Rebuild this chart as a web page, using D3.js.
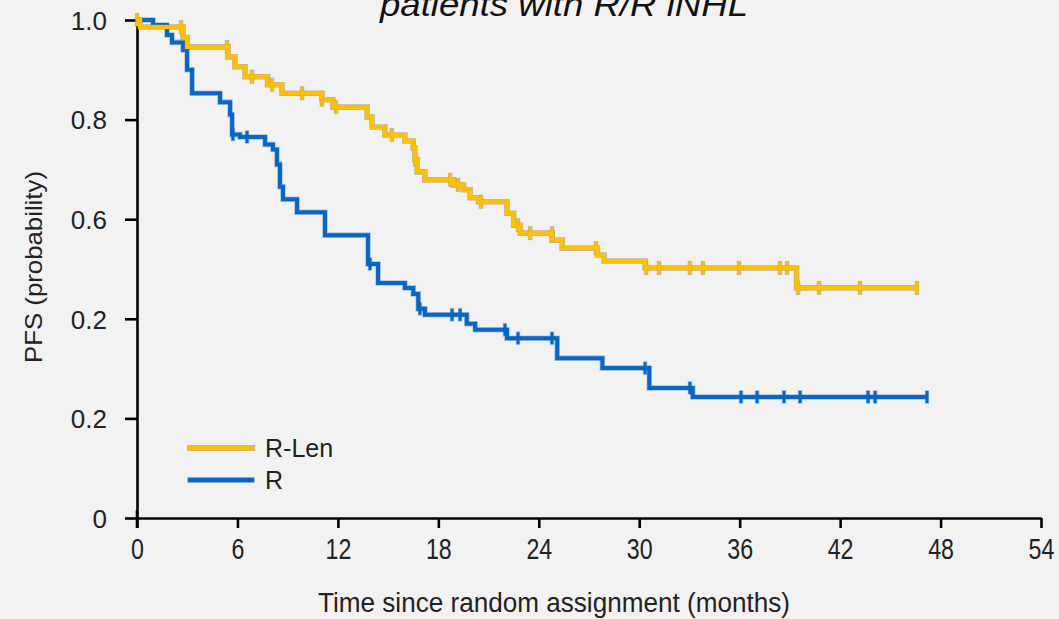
<!DOCTYPE html>
<html lang="en">
<head>
<meta charset="utf-8">
<script src="https://d3js.org/d3.v7.min.js"></script>
<style>
  body { margin: 0; background: #f2f2f2; }
  text { font-family: "Liberation Sans", Arial, sans-serif; fill: #222; }
</style>
</head>
<body>
<script>
var width = 1059;
var height = 619;

// axis ticks (the reference really labels 0.4 as "0.2")
var xTicks = [0, 6, 12, 18, 24, 30, 36, 42, 48, 54];
var yTicks = [1.0, 0.8, 0.6, 0.4, 0.2, 0];
var yTickLabels = ["1.0", "0.8", "0.6", "0.2", "0.2", "0"];

var seriesNames = ["R-Len", "R"];

// R-Len: step times (months) and survival after each step
var rlenTimes = [0, 0.18, 2.75, 3.0, 5.44, 5.85, 6.45, 7.8, 8.66, 11.05, 11.7, 13.74, 14.04, 14.8, 16.0, 16.5, 16.6, 16.73, 17.2, 18.9, 19.5, 19.9, 20.4, 22.1, 22.5, 22.9, 24.8, 25.4, 27.5, 27.9, 30.35, 39.4, 46.65];
var rlenSurv  = [1.0, 0.986, 0.965, 0.946, 0.926, 0.906, 0.886, 0.87, 0.853, 0.84, 0.825, 0.805, 0.785, 0.769, 0.757, 0.743, 0.72, 0.695, 0.679, 0.669, 0.659, 0.643, 0.635, 0.612, 0.588, 0.572, 0.558, 0.542, 0.528, 0.516, 0.502, 0.462, 0.462];
var rlenCensor = [0, 2.63, 5.38, 6.87, 8.07, 9.86, 11.05, 11.89, 15.23, 16.61, 18.7, 19.18, 20.55, 22.76, 23.48, 24.79, 27.42, 30.41, 31.18, 33.03, 33.81, 35.96, 38.41, 38.83, 39.49, 40.74, 43.19, 46.59];

// R
var rTimes = [0, 0.96, 1.79, 2.09, 2.75, 2.99, 3.29, 4.96, 5.56, 5.68, 6.15, 7.65, 8.12, 8.36, 8.54, 8.72, 9.56, 11.23, 13.8, 14.4, 16.0, 16.5, 16.8, 17.2, 19.7, 20.2, 22.1, 25.1, 27.8, 30.6, 33.2, 47.2];
var rSurv  = [1.0, 0.99, 0.97, 0.955, 0.94, 0.9, 0.853, 0.835, 0.81, 0.77, 0.765, 0.75, 0.74, 0.71, 0.665, 0.64, 0.614, 0.568, 0.51, 0.472, 0.462, 0.45, 0.42, 0.408, 0.39, 0.378, 0.361, 0.321, 0.301, 0.261, 0.243, 0.243];
var rCensor = [5.73, 6.57, 13.92, 16.9, 18.82, 19.3, 21.98, 22.76, 24.79, 30.35, 33.03, 36.08, 37.04, 38.65, 39.61, 43.67, 44.09, 47.19];

var colors = ["#ffc000", "#0866c6"];
var edges = ["rgba(150,130,70,0.55)", "rgba(60,110,170,0.35)"];

var svg = d3.select("body").append("svg")
    .attr("width", width)
    .attr("height", height);

svg.append("rect").attr("width", width).attr("height", height).attr("fill", "#f2f2f2");

var x = d3.scaleLinear().domain([0, 54]).range([137, 1041]);
var y = d3.scaleLinear().domain([0, 1]).range([518, 20]);

// title (its first line is cut off at the top in the reference)
svg.append("text")
    .attr("x", 380).attr("y", 16)
    .attr("textLength", 368).attr("lengthAdjust", "spacingAndGlyphs")
    .style("font-size", "34px").style("font-style", "italic")
    .style("fill", "#111")
    .text("patients with R/R iNHL");

// axes
var yAxis = svg.append("g")
    .attr("transform", "translate(137,0)")
    .call(d3.axisLeft(y).tickValues(yTicks).tickFormat(function(d, i) { return yTickLabels[i]; })
        .tickSize(12).tickSizeOuter(0).tickPadding(18));
yAxis.selectAll("text")
    .style("font-size", "26px")
    .attr("dy", "0.36em");

var xAxis = svg.append("g")
    .attr("transform", "translate(0,518)")
    .call(d3.axisBottom(x).tickValues(xTicks).tickSize(10).tickSizeOuter(0).tickPadding(10));
xAxis.selectAll("text")
    .style("font-size", "29px")
    .attr("transform", "scale(0.8,1)");

svg.selectAll(".domain, .tick line")
    .attr("stroke", "#000")
    .attr("stroke-width", 2.6);
svg.selectAll(".tick text").style("fill", "#222");

// extend y axis line down past x axis
svg.append("line").attr("x1", 137).attr("x2", 137).attr("y1", 510).attr("y2", 528)
    .attr("stroke", "#000").attr("stroke-width", 2.6);

// axis titles
svg.append("text")
    .attr("transform", "translate(42,267) rotate(-90)")
    .attr("text-anchor", "middle")
    .attr("textLength", 192).attr("lengthAdjust", "spacingAndGlyphs")
    .style("font-size", "24px")
    .text("PFS (probability)");

svg.append("text")
    .attr("x", 554).attr("y", 612)
    .attr("text-anchor", "middle")
    .attr("textLength", 472).attr("lengthAdjust", "spacingAndGlyphs")
    .style("font-size", "27px")
    .text("Time since random assignment (months)");

// KM curves
var line = d3.line()
    .x(function(d) { return x(d[0]); })
    .y(function(d) { return y(d[1]); })
    .curve(d3.curveStepAfter);

function survAt(times, surv, t) {
    var s = surv[0];
    for (var i = 0; i < times.length; i++) {
        if (times[i] <= t + 1e-9) s = surv[i];
    }
    return s;
}

function drawCurve(times, surv, censor, color, edge) {
    var pts = times.map(function(t, i) { return [t, surv[i]]; });
    var marks = censor.map(function(c) { return [c, survAt(times, surv, c)]; });
    var g = svg.append("g");

    // soft darker edge under the line
    g.append("path").datum(pts)
        .attr("d", line)
        .attr("fill", "none").attr("stroke", edge).attr("stroke-width", 5.6);
    g.selectAll(".ce").data(marks).enter().append("line")
        .attr("x1", function(d) { return x(d[0]); }).attr("x2", function(d) { return x(d[0]); })
        .attr("y1", function(d) { return y(d[1]) - 7; }).attr("y2", function(d) { return y(d[1]) + 7; })
        .attr("stroke", edge).attr("stroke-width", 4.4);

    g.append("path").datum(pts)
        .attr("d", line)
        .attr("fill", "none").attr("stroke", color).attr("stroke-width", 4);
    // censor ticks
    g.selectAll(".cm").data(marks).enter().append("line")
        .attr("x1", function(d) { return x(d[0]); }).attr("x2", function(d) { return x(d[0]); })
        .attr("y1", function(d) { return y(d[1]) - 6; }).attr("y2", function(d) { return y(d[1]) + 6; })
        .attr("stroke", color).attr("stroke-width", 3);
}

drawCurve(rTimes, rSurv, rCensor, colors[1], edges[1]);
drawCurve(rlenTimes, rlenSurv, rlenCensor, colors[0], edges[0]);

// legend
var legend = svg.append("g");
seriesNames.forEach(function(name, i) {
    var ly = 448 + i * 32;
    legend.append("line")
        .attr("x1", 187).attr("x2", 255).attr("y1", ly).attr("y2", ly)
        .attr("stroke", edges[i]).attr("stroke-width", 6);
    legend.append("line")
        .attr("x1", 188).attr("x2", 254).attr("y1", ly).attr("y2", ly)
        .attr("stroke", colors[i]).attr("stroke-width", 4.4);
    legend.append("text")
        .attr("x", 265).attr("y", ly + 9)
        .style("font-size", "25px")
        .text(name);
});
</script>
</body>
</html>
